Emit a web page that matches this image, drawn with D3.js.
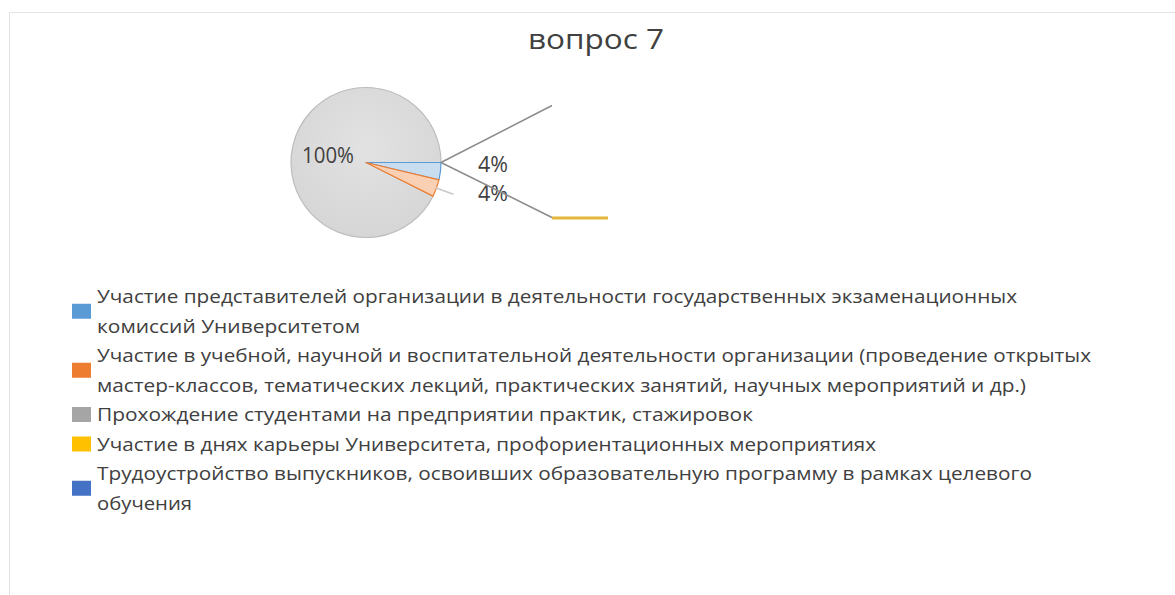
<!DOCTYPE html>
<html><head><meta charset="utf-8">
<script src="https://cdn.jsdelivr.net/npm/d3@7/dist/d3.min.js"></script>
<style>html,body{margin:0;padding:0;background:#fff;}svg{display:block;}</style>
</head><body>
<script>
// ---- data ----
const title = "вопрос 7";
const categories = [
  "Участие представителей организации в деятельности государственных экзаменационных комиссий Университетом",
  "Участие в учебной, научной и воспитательной деятельности организации (проведение открытых мастер-классов, тематических лекций, практических занятий, научных мероприятий и др.)",
  "Прохождение студентами на предприятии практик, стажировок",
  "Участие в днях карьеры Университета, профориентационных мероприятиях",
  "Трудоустройство выпускников, освоивших образовательную программу в рамках целевого обучения"
];
const values = [0.04, 0.04, 1.00, 0, 0];
const colors = ["#5b9bd5", "#ed7d31", "#a5a5a5", "#ffc000", "#4472c4"];
// legend lines as wrapped in the reference
const legendLines = [
  ["Участие представителей организации в деятельности государственных экзаменационных", "комиссий Университетом"],
  ["Участие в учебной, научной и воспитательной деятельности организации (проведение открытых", "мастер-классов, тематических лекций, практических занятий, научных мероприятий и др.)"],
  ["Прохождение студентами на предприятии практик, стажировок"],
  ["Участие в днях карьеры Университета, профориентационных мероприятиях"],
  ["Трудоустройство выпускников, освоивших образовательную программу в рамках целевого", "обучения"]
];
const legendLineWidths = [[920, 263], [994, 929], [656], [779], [935, 95]];

// ---- layout ----
const W = 1175, H = 595;
const svg = d3.select("body").append("svg").attr("width", W).attr("height", H);

// chart area border (light)
svg.append("path").attr("d", `M9.5,${H} L9.5,12.5 L${W},12.5`)
  .attr("fill", "none").attr("stroke", "#e3e3e3").attr("stroke-width", 1);

svg.append("text").attr("x", 596).attr("y", 49).attr("text-anchor", "middle")
  .attr("font-family", "Open Sans").attr("font-size", 28).attr("fill", "#404040")
  .attr("textLength", 136).attr("lengthAdjust", "spacingAndGlyphs").text(title);

const cx = 366, cy = 162.5, R = 75;
const pie = d3.pie().sort(null).value(d => d)
  .startAngle(Math.PI / 2).endAngle(Math.PI / 2 + 2 * Math.PI);
const arcs = pie(values);
const arc = d3.arc().innerRadius(0).outerRadius(R);

const defs = svg.append("defs");
const grad = defs.append("radialGradient").attr("id", "gg").attr("cx", "50%").attr("cy", "40%").attr("r", "60%");
grad.append("stop").attr("offset", "0%").attr("stop-color", "#e2e2e2");
grad.append("stop").attr("offset", "100%").attr("stop-color", "#d6d6d6");

const fills = ["#c9ddf1", "#f9d0b4", "url(#gg)", "#ffe9a6", "#c3d1ec"];
const strokes = ["#5b9bd5", "#ed7d31", "#bdbdbd", "#ffc000", "#4472c4"];

const g = svg.append("g").attr("transform", `translate(${cx},${cy})`);
// draw gray first then small slices on top
const order = [2, 0, 1, 3, 4];
order.forEach(i => {
  const a = arcs[i];
  if (a.endAngle - a.startAngle <= 0) return;
  g.append("path").attr("d", arc(a))
    .attr("fill", fills[i]).attr("stroke", strokes[i]).attr("stroke-width", 1.2)
    .attr("stroke-linejoin", "round");
});

const fmt = d3.format(".0%");
const pt = (ang, r) => [Math.sin(ang) * r, -Math.cos(ang) * r];

// labels
const labelFont = {family: "Open Sans", size: 21};
// 100% label inside
{
  const a = arcs[2];
  g.append("text").attr("x", -64).attr("y", 0)
    .attr("font-family", labelFont.family).attr("font-size", labelFont.size)
    .attr("fill", "#404040").attr("textLength", 52).attr("lengthAdjust", "spacingAndGlyphs")
    .text(fmt(a.data));
}
// small slice labels
[[0, 112, 9], [1, 112, 38.5]].forEach(([i, dx, dy]) => {
  g.append("text").attr("x", dx).attr("y", dy)
    .attr("font-family", labelFont.family).attr("font-size", labelFont.size)
    .attr("fill", "#404040").attr("textLength", 30).attr("lengthAdjust", "spacingAndGlyphs")
    .text(fmt(arcs[i].data));
});
// short leader for orange slice
{
  const a = arcs[1];
  const m = (a.startAngle + a.endAngle) / 2;
  const p0 = pt(m, R - 1), p1 = pt(m, R + 18);
  g.append("line").attr("x1", p0[0]).attr("y1", p0[1]).attr("x2", p1[0]).attr("y2", p1[1])
    .attr("stroke", "#c8c8c8").attr("stroke-width", 1.5);
}
// leader lines for zero-value series (labels are empty)
[[3, 186, -57], [4, 186, 55]].forEach(([i, ex, ey]) => {
  const a = arcs[i];
  const p0 = pt(a.startAngle, R);
  g.append("line").attr("x1", p0[0]).attr("y1", p0[1]).attr("x2", ex).attr("y2", ey)
    .attr("stroke", "#8c8c8c").attr("stroke-width", 1.5);
});
// yellow underline at end of lower leader
g.append("line").attr("x1", 186).attr("y1", 55.5).attr("x2", 242).attr("y2", 55.5)
  .attr("stroke", "#e2b93b").attr("stroke-width", 3);

// ---- legend ----
const lx = 97, b0 = 303, lh = 29.5;
let line = 0;
categories.forEach((c, i) => {
  const lines = legendLines[i];
  const first = b0 + line * lh;
  const last = first + (lines.length - 1) * lh;
  const mid = (first + last) / 2 - 6.5;
  svg.append("rect").attr("x", 72).attr("y", mid - 7.5).attr("width", 19).attr("height", 15)
    .attr("fill", colors[i]);
  lines.forEach((t, k) => {
    svg.append("text").attr("x", lx).attr("y", first + k * lh)
      .attr("font-family", "Open Sans").attr("font-size", 18).attr("fill", "#404040")
      .attr("textLength", legendLineWidths[i][k]).attr("lengthAdjust", "spacingAndGlyphs")
      .text(t);
  });
  line += lines.length;
});
</script>
</body></html>
